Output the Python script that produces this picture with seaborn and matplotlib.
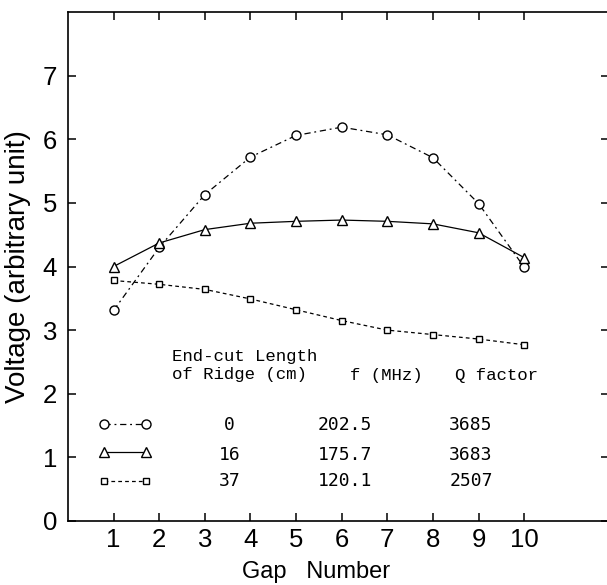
import numpy as np
import pandas as pd
import matplotlib
matplotlib.use("Agg")
import matplotlib.pyplot as plt
import seaborn as sns

# ---- data ----
gap = [1, 2, 3, 4, 5, 6, 7, 8, 9, 10]
v_cut0 = [3.31, 4.30, 5.13, 5.72, 6.06, 6.19, 6.07, 5.71, 4.99, 3.99]
v_cut16 = [4.00, 4.37, 4.58, 4.68, 4.71, 4.73, 4.71, 4.67, 4.53, 4.14]
v_cut37 = [3.78, 3.72, 3.64, 3.49, 3.32, 3.15, 3.00, 2.93, 2.86, 2.77]
x_ticks = [1, 2, 3, 4, 5, 6, 7, 8, 9, 10]
y_ticks = [0, 1, 2, 3, 4, 5, 6, 7]
ridge_cut = ["0", "16", "37"]
freq_mhz = ["202.5", "175.7", "120.1"]
q_factor = ["3685", "3683", "2507"]

sns.set_theme(style="white")
plt.rcParams["font.family"] = ["Liberation Sans", "DejaVu Sans"]

fig = plt.figure(figsize=(6.07, 5.85), dpi=100)
ax = fig.add_axes([68 / 607, 64 / 585, 541 / 607, 509 / 585])

common = dict(ax=ax, color="black", linewidth=0.9, legend=False,
              markerfacecolor="white", markeredgecolor="black",
              markeredgewidth=1.0)
sns.lineplot(x=gap, y=v_cut0, marker="o", markersize=6.5,
             linestyle=(0, (5, 3, 1.5, 3)), **common)
sns.lineplot(x=gap, y=v_cut16, marker="^", markersize=7.5,
             linestyle="-", **common)
sns.lineplot(x=gap, y=v_cut37, marker="s", markersize=5,
             linestyle=(0, (3, 2.5)), **common)

ax.set_xlim(0, 11.86)
ax.set_ylim(0, 8)
ax.set_xticks(x_ticks)
ax.set_yticks(y_ticks)
ax.set_xticklabels([str(t) for t in x_ticks])
ax.set_yticklabels([str(t) for t in y_ticks])
ax.tick_params(direction="in", length=6, width=1.1, colors="black",
               labelsize=18.5, top=True, right=True, bottom=True,
               left=True, labeltop=False, labelright=False)
ax.tick_params(axis="x", pad=5)
ax.tick_params(axis="y", pad=8)
for sp in ax.spines.values():
    sp.set_color("black")
    sp.set_linewidth(1.2)
ax.grid(False)

ax.set_xlabel("Gap   Number", fontsize=17, color="black")
ax.xaxis.set_label_coords((316 - 68) / 541, -0.079)
ax.set_ylabel("Voltage (arbitrary unit)", fontsize=20, color="black")
ax.yaxis.set_label_coords(-0.068, 0.5)

# legend samples (handles of the real lines)
ax.legend(handles=ax.lines[:3], labels=["", "", ""], loc="upper left",
          bbox_to_anchor=(0.058, 0.203), frameon=False, fontsize=12,
          numpoints=2, handlelength=3.1, handletextpad=0, borderpad=0,
          borderaxespad=0, labelspacing=0.8)

# table text
mono = ["Liberation Mono", "DejaVu Sans Mono"]
tmono = ["DejaVu Sans Mono"]
ax.text(0.192, 0.324, "End-cut Length", transform=ax.transAxes,
        family=mono, fontsize=12.5, va="center", ha="left", color="black")
ax.text(0.192, 0.287, "of Ridge (cm)", transform=ax.transAxes,
        family=mono, fontsize=12.5, va="center", ha="left", color="black")
ax.text(0.521, 0.285, "f (MHz)", transform=ax.transAxes,
        family=mono, fontsize=12.5, va="center", ha="left", color="black")
ax.text(0.715, 0.285, "Q factor", transform=ax.transAxes,
        family=mono, fontsize=12.5, va="center", ha="left", color="black")

row_y = [0.189, 0.130, 0.079]
for yy, a, b, c in zip(row_y, ridge_cut, freq_mhz, q_factor):
    ax.text(0.298, yy, a, transform=ax.transAxes, family=tmono,
            fontsize=13, va="center", ha="center", color="black")
    ax.text(0.512, yy, b, transform=ax.transAxes, family=tmono,
            fontsize=13, va="center", ha="center", color="black")
    ax.text(0.745, yy, c, transform=ax.transAxes, family=tmono,
            fontsize=13, va="center", ha="center", color="black")

fig.savefig("out.png", dpi=100)
